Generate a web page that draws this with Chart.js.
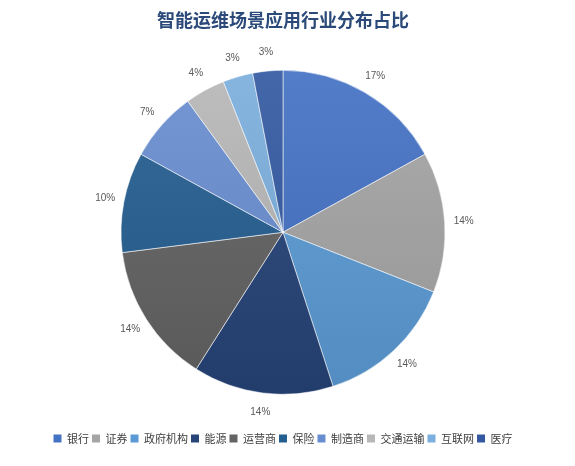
<!DOCTYPE html>
<html>
<head>
<meta charset="utf-8">
<title>智能运维场景应用行业分布占比</title>
<script src="https://cdn.jsdelivr.net/npm/chart.js@4/dist/chart.umd.min.js"></script>
<style>
  html, body { margin: 0; padding: 0; background: #fff; }
  #wrap { width: 575px; height: 466px; }
</style>
</head>
<body>
<div id="wrap"><canvas id="pie"></canvas></div>
<script>
// data
var industries = ['银行', '证券', '政府机构', '能源', '运营商', '保险', '制造商', '交通运输', '互联网', '医疗'];
var shares = [17, 14, 14, 14, 14, 10, 7, 4, 3, 3];
var sliceColors = ['#4472C4', '#A5A5A5', '#5B9BD5', '#264478', '#636363', '#255E91', '#698ED0', '#B7B7B7', '#7CAFDD', '#335AA1'];

var PIE_RADIUS = 162;

function shade(hex, amt) {
    // amt > 0 mixes toward white, < 0 toward black
    var n = parseInt(hex.slice(1), 16);
    var c = [(n >> 16) & 255, (n >> 8) & 255, n & 255];
    c = c.map(function (v) {
        return Math.round(amt > 0 ? v + (255 - v) * amt : v * (1 + amt));
    });
    return 'rgb(' + c.join(',') + ')';
}

function sliceFill(ctx) {
    var base = sliceColors[ctx.dataIndex];
    var area = ctx.chart.chartArea;
    if (!area) return base;
    var cy = (area.top + area.bottom) / 2;
    var g = ctx.chart.ctx.createLinearGradient(0, cy - PIE_RADIUS, 0, cy + PIE_RADIUS);
    g.addColorStop(0, shade(base, 0.08));
    g.addColorStop(1, shade(base, -0.1));
    return g;
}

// percentage labels just outside each slice
var outsideLabels = {
    id: 'outsideLabels',
    afterDatasetsDraw: function (chart) {
        var c = chart.ctx;
        var meta = chart.getDatasetMeta(0);
        c.save();
        c.font = '10px "Liberation Sans", Arial, sans-serif';
        c.fillStyle = '#595959';
        c.textAlign = 'center';
        c.textBaseline = 'middle';
        meta.data.forEach(function (arc, i) {
            var p = arc.getProps(['x', 'y', 'startAngle', 'endAngle', 'outerRadius'], true);
            var mid = (p.startAngle + p.endAngle) / 2;
            var r = p.outerRadius + 19;
            c.fillText(shares[i] + '%', p.x + Math.cos(mid) * r, p.y + Math.sin(mid) * r);
        });
        c.restore();
    }
};

var ctx = document.getElementById('pie');

var chart = new Chart(ctx, {
    type: 'pie',
    data: {
        labels: industries,
        datasets: [{
            data: shares,
            backgroundColor: sliceFill,
            borderColor: 'rgba(255,255,255,0.55)',
            borderWidth: 1,
            radius: PIE_RADIUS
        }]
    },
    options: {
        responsive: true,
        maintainAspectRatio: false,
        animation: false,
        events: [],
        layout: {
            padding: { left: 10, right: 19, top: 0, bottom: 12 }
        },
        plugins: {
            title: {
                display: true,
                text: '智能运维场景应用行业分布占比',
                color: '#2B4A7A',
                font: { family: '"Noto Sans CJK SC", sans-serif', size: 18, weight: 'bold' },
                padding: { top: 9, bottom: 4 }
            },
            legend: {
                position: 'bottom',
                labels: {
                    boxWidth: 8,
                    boxHeight: 8,
                    padding: 3,
                    color: '#404040',
                    font: { family: '"Noto Sans CJK SC", sans-serif', size: 11 },
                    generateLabels: function (chart) {
                        return industries.map(function (name, i) {
                            return {
                                text: name,
                                fillStyle: sliceColors[i],
                                strokeStyle: sliceColors[i],
                                lineWidth: 0,
                                fontColor: '#404040',
                                index: i
                            };
                        });
                    }
                }
            },
            tooltip: { enabled: false }
        }
    },
    plugins: [outsideLabels]
});
</script>
</body>
</html>
